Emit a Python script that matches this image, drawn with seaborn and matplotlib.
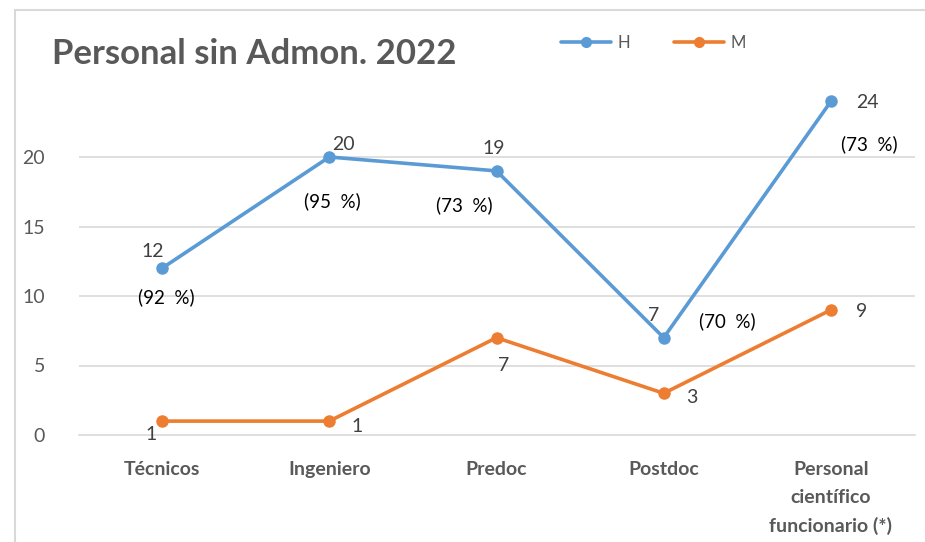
import matplotlib
matplotlib.use("Agg")
import matplotlib.pyplot as plt
import seaborn as sns
import pandas as pd
from matplotlib.lines import Line2D
from matplotlib.patches import Rectangle

categories = ["Técnicos", "Ingeniero", "Predoc", "Postdoc", "Personal\ncientífico\nfuncionario (*)"]
h_values = [12, 20, 19, 7, 24]
m_values = [1, 1, 7, 3, 9]
h_pct = ["(92  %)", "(95  %)", "(73  %)", "(70  %)", "(73  %)"]
series_names = ["H", "M"]
title = "Personal sin Admon. 2022"
yticks = [0, 5, 10, 15, 20]

BLUE = "#5B9BD5"
ORANGE = "#ED7D31"
GREY = "#595959"
DARK = "#404040"

sns.set_theme(style="white")
plt.rcParams["font.family"] = ["Lato", "DejaVu Sans"]

df = pd.DataFrame({
    "cat": list(range(len(categories))) * 2,
    "val": h_values + m_values,
    "serie": [series_names[0]] * len(categories) + [series_names[1]] * len(categories),
})

fig = plt.figure(figsize=(9.25, 5.42), dpi=100)
ax = fig.add_axes([78.5 / 925, 1 - 435 / 542, (914.5 - 78.5) / 925, (435 - 87.5) / 542])

sns.lineplot(data=df, x="cat", y="val", hue="serie", palette=[BLUE, ORANGE],
             marker="o", markersize=9, markeredgewidth=0, linewidth=2.6,
             ax=ax, legend=False, zorder=3)

ax.set_xlim(-0.5, len(categories) - 0.5)
ax.set_ylim(0, 25)
ax.set_yticks(yticks)
ax.set_xticks(range(len(categories)))
ax.set_xticklabels(categories, fontsize=14, fontweight="bold", color=GREY, linespacing=1.75)
ax.set_yticklabels([str(t) for t in yticks], fontsize=14, color=GREY)
ax.tick_params(axis="y", length=0, pad=24)
ax.tick_params(axis="x", length=0, pad=19)
ax.set_xlabel("")
ax.set_ylabel("")
for t in yticks[1:]:
    ax.axhline(t, color="#D9D9D9", linewidth=1.2, zorder=0)
for s in ["top", "right", "left"]:
    ax.spines[s].set_visible(False)
ax.spines["bottom"].set_color("#D9D9D9")
ax.spines["bottom"].set_linewidth(1.2)

# value labels for H (offsets in points relative to markers)
h_val_off = [(-7, 12), (10, 9), (-2, 16), (-7, 16), (26, -1)]
h_pct_off = [(3, -21), (2, -32), (-23, -25), (46, 12), (28, -31)]
for i, (v, p) in enumerate(zip(h_values, h_pct)):
    ax.annotate(str(v), (i, v), xytext=h_val_off[i], textcoords="offset points",
                ha="center", va="center", fontsize=14, color=DARK)
    ax.annotate(p, (i, v), xytext=h_pct_off[i], textcoords="offset points",
                ha="center", va="center", fontsize=13.5, color="black")

m_val_off = [(-8, -10), (20, -4), (5, -20), (20, -3), (22, -1)]
for i, v in enumerate(m_values):
    ax.annotate(str(v), (i, v), xytext=m_val_off[i], textcoords="offset points",
                ha="center", va="center", fontsize=14, color=DARK)

# title
fig.text(52 / 925, 1 - 54 / 542, title, fontsize=25, fontweight="bold", color=GREY,
         ha="left", va="center")

# legend
handles = [Line2D([0], [0], color=BLUE, lw=2.6, marker="o", markersize=8, markeredgewidth=0),
           Line2D([0], [0], color=ORANGE, lw=2.6, marker="o", markersize=8, markeredgewidth=0)]
leg = fig.legend(handles, series_names, loc="center left", bbox_to_anchor=(546 / 925, 1 - 43 / 542),
                 ncol=2, frameon=False, fontsize=12, handlelength=3.0, handletextpad=0.4,
                 columnspacing=2.6)
for t in leg.get_texts():
    t.set_color(GREY)

# chart border (top and left visible)
fig.patches.append(Rectangle((15 / 925, -0.1), 1.2, (1 - 10 / 542) + 0.1,
                             transform=fig.transFigure, fill=False,
                             edgecolor="#D9D9D9", linewidth=1.5, zorder=-1))

fig.savefig("out.png", dpi=100)
